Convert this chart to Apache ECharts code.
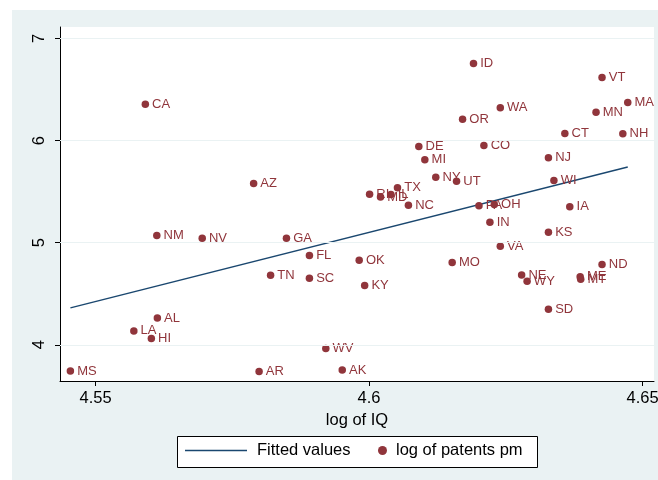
<!DOCTYPE html>
<html>
<head>
<meta charset="utf-8">
<script src="https://cdn.jsdelivr.net/npm/echarts@6/dist/echarts.min.js"></script>
<style>
  html, body { margin: 0; padding: 0; background: #ffffff; }
  #wrap { position: relative; width: 658px; height: 480px; }
  #bg { position: absolute; left: 12px; top: 10px; width: 646px; height: 470px; background: #EAF2F3; }
  #chart { position: absolute; left: 0; top: 0; width: 658px; height: 480px; }
</style>
</head>
<body>
<div id="wrap"><div id="bg"></div><div id="chart"></div></div>
<script>
// ---- Data ----
const states = ['MS','CA','AZ','NM','NV','GA','FL','TN','SC','AL','LA','HI','AR','WV','AK','OK','KY','MO','VA','NE','WY','SD','ME','MT','ND','ID','VT','MA','MN','WA','OR','CT','NH','DE','CO','MI','NJ','NY','UT','WI','TX','RI','MD','IL','NC','PA','OH','IA','IN','KS'];
const logIQ = [4.5454,4.5591,4.5789,4.5612,4.5695,4.5849,4.5891,4.5820,4.5891,4.5613,4.5570,4.5602,4.5799,4.5921,4.5951,4.5982,4.5992,4.6152,4.6240,4.6279,4.6289,4.6328,4.6386,4.6387,4.6426,4.6191,4.6426,4.6473,4.6415,4.6240,4.6171,4.6358,4.6464,4.6091,4.6210,4.6102,4.6328,4.6122,4.6160,4.6338,4.6052,4.6001,4.6021,4.6040,4.6072,4.6201,4.6229,4.6367,4.6221,4.6328];
const logPatents = [3.742,6.357,5.581,5.070,5.043,5.043,4.874,4.681,4.652,4.261,4.136,4.062,3.739,3.964,3.752,4.828,4.580,4.805,4.965,4.684,4.623,4.349,4.667,4.642,4.786,6.755,6.618,6.374,6.279,6.322,6.210,6.070,6.067,5.943,5.953,5.813,5.833,5.640,5.601,5.608,5.537,5.474,5.447,5.471,5.366,5.361,5.373,5.353,5.200,5.102];
const fitX = [4.5454, 4.6473];
const fitY = [4.361, 5.741];
const xTicks = [4.55, 4.6, 4.65];
const yTicks = [4, 5, 6, 7];

const maroon = '#90353b';
const navy = '#1a476f';
const gridCol = '#EAF2F3';
const font = 'Liberation Sans, Arial, Helvetica, sans-serif';

const chart = echarts.init(document.getElementById('chart'), null, { renderer: 'canvas' });
chart.setOption({
  animation: false,
  backgroundColor: 'transparent',
  textStyle: { fontFamily: font },
  grid: { left: 60, right: 4, top: 27, bottom: 99, containLabel: false, outerBoundsMode: 'none',
    show: true, backgroundColor: '#ffffff', borderWidth: 0 },
  xAxis: {
    type: 'value', min: 4.5435, max: 4.6521,
    name: 'log of IQ', nameLocation: 'middle', nameGap: 26,
    nameTextStyle: { fontSize: 16.5, color: '#000', fontFamily: font },
    axisLine: { show: true, onZero: false, lineStyle: { color: '#000', width: 1 } },
    axisTick: { show: true, length: 5, customValues: xTicks, lineStyle: { color: '#000' } },
    axisLabel: { customValues: xTicks, fontSize: 16.5, color: '#000', margin: 9, fontFamily: font,
      hideOverlap: false, formatter: v => String(v) },
    splitLine: { show: false }
  },
  yAxis: {
    type: 'value', min: 3.645, max: 7.113,
    axisLine: { show: true, onZero: false, lineStyle: { color: '#000', width: 1 } },
    axisTick: { show: true, length: 5, customValues: yTicks, lineStyle: { color: '#000' } },
    axisLabel: { customValues: yTicks, fontSize: 16.5, color: '#000', rotate: 90, margin: 12, fontFamily: font,
      formatter: v => String(v) },
    splitLine: { show: false }
  },
  legend: [
    { data: [{ name: 'Fitted values', icon: 'rect' }], left: 185, top: 442, padding: 0,
      itemWidth: 62, itemHeight: 1.4, itemStyle: { color: navy },
      textStyle: { fontSize: 16.5, color: '#000', fontFamily: font, padding: [0, 0, 0, 5] } },
    { data: [{ name: 'log of patents pm', icon: 'circle' }], left: 378, top: 442, padding: 0,
      itemWidth: 9, itemHeight: 9,
      textStyle: { fontSize: 16.5, color: '#000', fontFamily: font, padding: [0, 0, 0, 4] } }
  ],
  graphic: [
    { type: 'rect', shape: { x: 177.5, y: 436.5, width: 360, height: 31 },
      style: { fill: '#ffffff', stroke: '#000000', lineWidth: 1 }, z: 0, silent: true }
  ],
  series: [
    {
      name: 'gridlines', type: 'line', data: [], z: 1, silent: true,
      markLine: {
        silent: true, symbol: ['none', 'none'], label: { show: false }, animation: false,
        lineStyle: { color: gridCol, width: 1, type: 'solid' },
        emphasis: { disabled: true },
        data: yTicks.map(v => ({ yAxis: v }))
      }
    },
    {
      name: 'Fitted values', type: 'line', z: 2,
      data: fitX.map((x, i) => [x, fitY[i]]),
      symbol: 'none', showSymbol: false,
      lineStyle: { color: navy, width: 1.4 }, itemStyle: { color: navy }
    },
    {
      name: 'log of patents pm', type: 'scatter', z: 3,
      data: logIQ.map((x, i) => ({ value: [x, logPatents[i]], name: states[i] })),
      symbol: 'circle', symbolSize: 7.5,
      itemStyle: { color: maroon, opacity: 1 },
      label: { show: true, position: 'right', distance: 3, color: maroon, fontSize: 13, fontFamily: font,
        formatter: p => p.name }
    }
  ]
});
</script>
</body>
</html>
